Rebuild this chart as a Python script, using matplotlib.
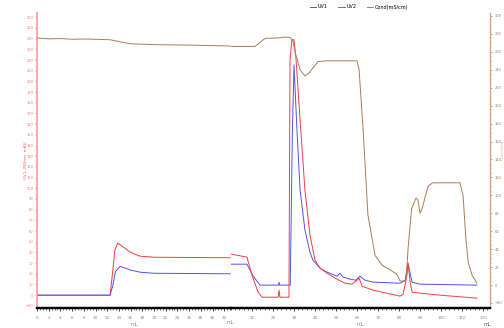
import numpy as np
import matplotlib
matplotlib.use("Agg")
from matplotlib import pyplot as plt
from matplotlib.ticker import MultipleLocator

# segment 1 (sample load), x in mL
s1_uv1_x = [0, 12.5, 13.0, 13.4, 14.2, 15.0, 16.0, 17.6, 20.0, 33.0]
s1_uv1_y = [0, 0, 10, 22, 27, 25.5, 23.5, 21.5, 20.5, 20.0]
s1_uv2_x = [0, 12.5, 12.9, 13.3, 13.8, 15.0, 16.0, 17.6, 20.0, 33.0]
s1_uv2_y = [0, 0, 20, 42, 48.7, 44, 40, 36.5, 35.5, 35.0]
s1_cond_x = [0, 2, 4, 6, 8, 10, 12.5, 14, 16, 20, 26, 33]
s1_cond_y = [275.4, 274.5, 274.8, 274.0, 274.3, 274.0, 273.5, 271.5, 269.0, 268.0, 267.5, 266.5]

# segment 2 (elution), x in mL
s2_uv1_x = [0, 7.6, 10.5, 13.8, 22.6, 22.9, 23.2, 28.2, 29.2, 30.0, 31.4, 32.9, 35.2,
            37.6, 39.0, 42.4, 45.7, 50.5, 51.9, 53.3, 56.7, 59.5, 61.4, 63.8, 67.6,
            80.5, 82.9, 84.3, 86.2, 90.0, 117.1]
s2_uv1_y = [29, 29, 18, 9.4, 9.4, 12, 9.4, 9.4, 150, 215.6, 154.6, 98.4, 60.9,
            40.3, 32.8, 25.3, 21.6, 17.8, 20.6, 16.9, 15.0, 14.0, 17.8, 14.0, 12.2,
            11.2, 14.0, 30.0, 12.2, 10.3, 9.4]
s2_uv2_x = [0, 7.6, 10.0, 12.9, 14.8, 22.4, 22.9, 23.3, 27.6, 28.1, 29.0, 30.0, 31.0,
            32.9, 35.2, 37.6, 40.0, 42.4, 45.7, 50.5, 54.3, 57.6, 59.5, 61.0, 62.4,
            67.6, 80.5, 81.9, 82.9, 83.8, 84.3, 85.2, 86.2, 90.0, 99.5, 117.1]
s2_uv2_y = [38.4, 35.6, 18.7, 2.8, -1.9, -1.9, 4.7, -1.9, -1.9, 220, 239, 239, 220,
            164, 98.4, 56.2, 32.8, 25.3, 20.6, 15.0, 11.2, 10.3, 13.1, 15.9, 8.4,
            4.7, -0.9, 0.9, 9.4, 18.7, 30.0, 14.0, 2.8, 1.9, 0.0, -2.8]
s2_cond_x = [0, 11.4, 13.5, 16.2, 22, 26, 28.1, 29.5, 30.5, 32.9, 35.2, 37, 41.4, 45,
             60, 61, 63, 65.2, 68.6, 72, 75.7, 79, 80.5, 82.9, 83.5, 84.3, 86, 88.1,
             89, 90, 91, 93.8, 96, 109, 110.5, 111.9, 113, 114.8, 117.1]
s2_cond_y = [266, 266, 270, 275, 275.5, 276.5, 276, 272, 260, 240, 233, 236, 249, 250,
             250, 240, 170, 78, 33, 22, 17, 12, 4.5, 4.5, 10, 40, 85, 97,
             95, 80, 85, 110, 114, 114, 100, 50, 25, 11, 2]

seg1_ticks = list(range(0, 33, 2))
seg2_ticks = list(range(10, 121, 10))

BLUE = "#5050ff"
RED = "#ff3a3a"
BROWN = "#b07a55"
GREY = "#888888"

W, H = 504, 328
fig = plt.figure(figsize=(W / 100, H / 100), dpi=100)

left, right, bottom, top, split = 37, 490, 308, 13, 231
ax1 = fig.add_axes([left / W, (H - bottom) / H, (split - left) / W, (bottom - top) / H])
ax2 = fig.add_axes([split / W, (H - bottom) / H, (right - split) / W, (bottom - top) / H])
ax1r = ax1.twinx()
ax2r = ax2.twinx()

ax1.plot(s1_uv2_x, s1_uv2_y, color=RED, lw=0.7)
ax1.plot(s1_uv1_x, s1_uv1_y, color=BLUE, lw=0.7)
ax1r.plot(s1_cond_x, s1_cond_y, color=BROWN, lw=0.7)
ax2.plot(s2_uv1_x, s2_uv1_y, color=BLUE, lw=0.7, label="UV1")
ax2.plot(s2_uv2_x, s2_uv2_y, color=RED, lw=0.7, label="UV2")
ax2r.plot(s2_cond_x, s2_cond_y, color=BROWN, lw=0.7, label="Cond(mS/cm)")

for a in (ax1, ax2):
    a.set_ylim(-12, 264)
for a in (ax1r, ax2r):
    a.set_ylim(-25.6, 303.3)
ax1.set_xlim(0, (split - left) / 5.85)
ax2.set_xlim(0, (right - split) / 2.1)

for a in (ax1, ax2, ax1r, ax2r):
    a.spines["top"].set_visible(False)
    a.spines["bottom"].set_color("black")
    a.spines["bottom"].set_linewidth(1.6)
    a.tick_params(axis="x", labelsize=3.0, colors="black", labelcolor=GREY,
                  length=2, width=0.5, pad=4)
    a.tick_params(axis="x", which="minor", length=1.2, width=0.4)

ax1.spines["right"].set_visible(False)
ax1r.spines["right"].set_visible(False)
ax1r.spines["left"].set_visible(False)
ax2.spines["left"].set_visible(False)
ax2.spines["right"].set_visible(False)
ax2r.spines["left"].set_visible(False)
ax1.spines["left"].set_color("#ff9a9a")
ax1.spines["left"].set_linewidth(1.2)
ax2r.spines["right"].set_color("#d9a77a")
ax2r.spines["right"].set_linewidth(1.0)

ax1.set_xticks(seg1_ticks)
ax1.xaxis.set_minor_locator(MultipleLocator(0.5))
ax2.set_xticks(seg2_ticks)
ax2.xaxis.set_minor_locator(MultipleLocator(2))

ax1.set_yticks(range(-10, 261, 10))
ax1.tick_params(axis="y", labelsize=2.6, colors="#ff8080", length=1.5, width=0.5, pad=1)
ax1.yaxis.set_minor_locator(MultipleLocator(2))
ax1.tick_params(axis="y", which="minor", length=0.8, width=0.4, colors="#ff8080")
ax2.set_yticks([])
ax1r.set_yticks([])
ax2r.set_yticks(range(-20, 301, 20))
ax2r.tick_params(axis="y", labelsize=2.6, colors=BROWN, length=1.5, width=0.5, pad=2)
ax2r.yaxis.set_minor_locator(MultipleLocator(5))
ax2r.tick_params(axis="y", which="minor", length=0.8, width=0.4, colors=BROWN)

ax1.set_xlabel("mL", fontsize=3.5, color=GREY, labelpad=1)
ax2.set_xlabel("mL", fontsize=3.5, color=GREY, labelpad=1)
fig.text(230 / W, 1 - 323 / H, "mL", fontsize=3.5, color=GREY, ha="center", va="center")
fig.text(487 / W, 1 - 324.5 / H, "mL", fontsize=3.6, color="#555555", ha="center", va="center")
fig.text(25 / W, 1 - 160 / H, "UV1_280nm  mAU", fontsize=3.0, color="#ff6060",
         rotation=90, ha="center", va="center")
fig.text(503 / W, 1 - 150 / H, "Cond mS/cm", fontsize=2.2, color="#c8b0a0",
         rotation=90, ha="center", va="center")

h1, l1 = ax2.get_legend_handles_labels()
h2, l2 = ax2r.get_legend_handles_labels()
fig.legend(h1 + h2, l1 + l2, loc="center", bbox_to_anchor=(359 / W, 1 - 7 / H),
           ncol=3, fontsize=3.5, frameon=False, handlelength=1.3, columnspacing=2.2,
           handletextpad=0.3)

fig.savefig("out.png", dpi=100)
